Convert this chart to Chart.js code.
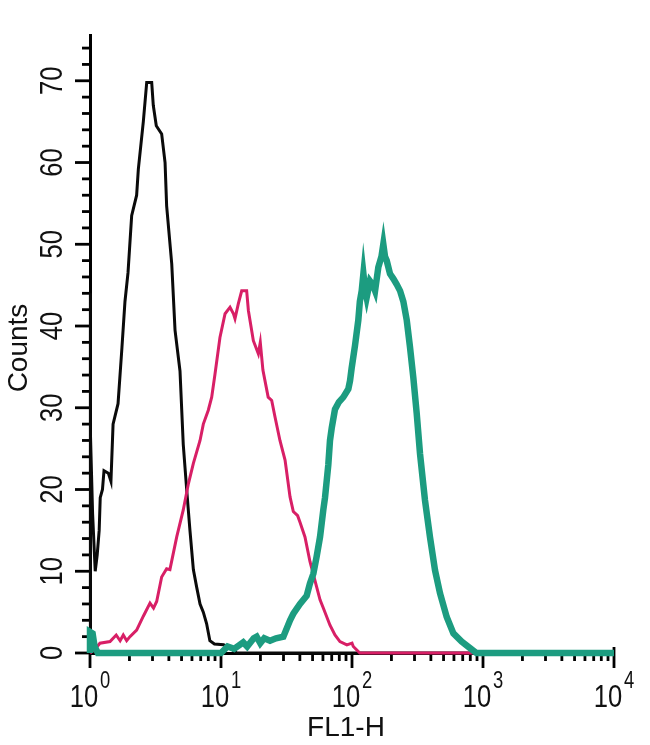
<!DOCTYPE html>
<html><head><meta charset="utf-8">
<script src="https://cdn.jsdelivr.net/npm/chart.js@4.4.1/dist/chart.umd.min.js"></script>
<style>html,body{margin:0;padding:0;background:#fff;}#wrap{width:650px;height:745px;position:relative;}</style>
</head><body><div id="wrap"><canvas id="c"></canvas></div>
<script>
// FL1-H channel values (x) and counts (y)
const blackX = [1, 1, 1.014, 1.047, 1.096, 1.135, 1.175, 1.197, 1.245, 1.279, 1.380, 1.445, 1.500, 1.637, 1.754, 1.849, 1.950, 2.080, 2.270, 2.339, 2.553, 2.710, 2.958, 3.041, 3.206, 3.524, 3.741, 3.846, 4.207, 4.457, 4.864, 5.152, 5.470, 5.794, 6.152, 6.531, 6.918, 7.328, 7.762, 8.222, 8.913, 10.47, 11.75, 13.18, 10000];
const blackY = [0, 44, 27, 17, 10, 12, 15, 19, 20, 22.3, 22, 21, 28, 30.5, 37.4, 43, 46.5, 53.5, 56, 59.2, 65, 69.8, 69.8, 67, 64.5, 63.5, 60, 54.7, 47.6, 39.5, 34.5, 25.5, 20, 15, 10.2, 8, 6, 5, 3.6, 1.5, 1.1, 1, 0.6, 0, 0];

const pinkX = [1, 1.096, 1.191, 1.422, 1.585, 1.698, 1.795, 1.905, 2.018, 2.270, 2.553, 2.871, 3.055, 3.228, 3.524, 3.846, 4.074, 4.592, 5.152, 5.636, 6.152, 6.918, 7.328, 7.998, 8.492, 8.995, 9.817, 10.74, 11.72, 12.45, 12.79, 13.55, 14.39, 15.70, 16.18, 17.66, 19.28, 19.95, 20.89, 22.91, 24.38, 25.82, 28.18, 30.83, 33.65, 35.65, 38.46, 40.09, 43.75, 47.75, 53.70, 57.02, 60.39, 67.92, 74.13, 80.91, 91.41, 100, 102.3, 114.8, 10000];
const pinkY = [0, 0.5, 1.2, 1.4, 2.2, 1.5, 2.2, 1.5, 2, 2.8, 4.5, 6.1, 5.5, 6.3, 9.3, 10.3, 10.2, 14.2, 17.5, 20.7, 23.2, 26, 28, 29.7, 31.3, 34.1, 38.6, 41.5, 42.3, 41.5, 40.9, 42.7, 44.3, 44.3, 41.9, 38.2, 36.6, 38, 34.6, 31.3, 30.9, 28.9, 26, 23.6, 19.1, 17.3, 16.8, 16, 14.2, 11.2, 8.1, 6.5, 5.5, 3.4, 2.2, 1.4, 1.0, 1.2, 0.8, 0, 0];

const tealX = [1, 1, 1.047, 1.084, 1.148, 10, 11.22, 12.59, 14.79, 15.85, 17.78, 18.71, 19.95, 21.38, 23.66, 26.30, 29.92, 33.65, 35.65, 40.09, 45.08, 47.75, 50.70, 53.70, 57.02, 60.39, 62.23, 65.92, 67.92, 69.98, 74.13, 79.43, 85.90, 93.76, 96.61, 99.31, 105.4, 111.7, 114.8, 118.6, 122.2, 125.9, 129.4, 137.1, 144.5, 150.0, 158.9, 167.9, 173.4, 178.6, 184.1, 195.0, 206.5, 219.3, 232.8, 246.6, 261.8, 277.3, 293.8, 311.9, 330.4, 360.6, 393.6, 430.5, 469.9, 528.4, 594.3, 687.1, 796.2, 891.3, 10000];
const tealY = [0, 2.6, 2.4, 0.8, 0, 0, 0.8, 0.5, 1.3, 0.8, 1.8, 2, 1.2, 1.8, 1.5, 1.8, 2, 4, 4.8, 6, 7, 8.5, 9.7, 11.8, 14.2, 17.5, 19, 23, 26, 27.5, 29.8, 30.7, 31.3, 32.3, 33.3, 34.8, 37.6, 40.7, 43, 44.3, 46.4, 44.5, 43.5, 45.5, 45, 44.3, 47.2, 48.5, 50, 48.5, 48, 46.4, 45.8, 45.1, 44.3, 43, 40.7, 37.4, 33.7, 29.3, 24.4, 18.7, 14.2, 10.1, 7.3, 4.4, 2.4, 1.4, 0.6, 0, 0];

const yTickValues = [0, 10, 20, 30, 40, 50, 60, 70];
const yTickLabels = ['0', '10', '20', '30', '40', '50', '60', '70'];
const xTickValues = [1, 10, 100, 1000, 10000];
const xTickBase = ['10', '10', '10', '10', '10'];
const xTickExp = ['0', '1', '2', '3', '4'];
const xTitle = 'FL1-H';
const yTitle = 'Counts';

const pts = (xs, ys) => xs.map((x, i) => ({ x: x, y: ys[i] }));
const FONT = '"Liberation Sans", Arial, Helvetica, sans-serif';

const axisDecor = {
  id: 'axisDecor',
  beforeDatasetsDraw(chart) {
    const ctx = chart.ctx, xs = chart.scales.x, ys = chart.scales.y;
    const ax = chart.chartArea.left, ay = chart.chartArea.bottom;
    ctx.save();
    ctx.strokeStyle = '#000';
    ctx.lineWidth = 2.8;
    ctx.lineCap = 'butt';
    for (let v = 0; v <= ys.max; v += 2) {
      const py = ys.getPixelForValue(v);
      const major = v % 10 === 0;
      ctx.beginPath(); ctx.moveTo(ax - (major ? 15 : 8), py); ctx.lineTo(ax, py); ctx.stroke();
    }
    for (let k = 0; k <= 4; k++) {
      for (let d = 1; d <= 9; d++) {
        if (k === 4 && d > 1) break;
        const px = xs.getPixelForValue(d * Math.pow(10, k));
        const major = d === 1;
        ctx.beginPath();
        ctx.moveTo(px, ay - (k === 4 ? 6 : 0));
        ctx.lineTo(px, ay + (major ? 15 : 8));
        ctx.stroke();
      }
    }
    ctx.restore();
  },
  afterDraw(chart) {
    const ctx = chart.ctx, xs = chart.scales.x, ys = chart.scales.y;
    ctx.save();
    ctx.fillStyle = '#111';
    ctx.font = '32px ' + FONT;
    yTickValues.forEach((v, i) => {
      const py = ys.getPixelForValue(v);
      ctx.save();
      ctx.translate(62, py);
      ctx.rotate(-Math.PI / 2);
      ctx.scale(0.8, 1);
      ctx.textAlign = 'center';
      ctx.textBaseline = 'alphabetic';
      ctx.fillText(yTickLabels[i], 0, 0);
      ctx.restore();
    });
    xTickValues.forEach((v, i) => {
      const px = xs.getPixelForValue(v);
      ctx.font = '32px ' + FONT;
      const w1 = ctx.measureText(xTickBase[i]).width * 0.8;
      ctx.font = '23px ' + FONT;
      const w2 = ctx.measureText(xTickExp[i]).width * 0.8;
      const gap = 2;
      const start = px - (w1 + gap + w2) / 2;
      ctx.textAlign = 'left';
      ctx.textBaseline = 'alphabetic';
      ctx.save();
      ctx.translate(start, 707);
      ctx.scale(0.8, 1);
      ctx.font = '32px ' + FONT;
      ctx.fillText(xTickBase[i], 0, 0);
      ctx.restore();
      ctx.save();
      ctx.translate(start + w1 + gap, 688);
      ctx.scale(0.8, 1);
      ctx.font = '23px ' + FONT;
      ctx.fillText(xTickExp[i], 0, 0);
      ctx.restore();
    });
    ctx.font = '28px ' + FONT;
    ctx.textAlign = 'center';
    ctx.textBaseline = 'alphabetic';
    ctx.fillText(xTitle, 346, 736);
    ctx.save();
    ctx.translate(27, 348);
    ctx.rotate(-Math.PI / 2);
    ctx.fillText(yTitle, 0, 0);
    ctx.restore();
    ctx.restore();
  }
};

new Chart(document.getElementById('c'), {
  type: 'line',
  data: {
    datasets: [
      { label: 'control', data: pts(blackX, blackY), borderColor: '#0a0a0a', borderWidth: 3, order: 2 },
      { label: 'isotype', data: pts(pinkX, pinkY), borderColor: '#d81f66', borderWidth: 3, order: 1 },
      { label: 'stained', data: pts(tealX, tealY), borderColor: '#1c9c80', borderWidth: 6.5, order: 0 }
    ]
  },
  options: {
    responsive: true,
    maintainAspectRatio: false,
    animation: false,
    devicePixelRatio: 1,
    layout: { padding: { left: 90, right: 36, top: 35, bottom: 92 } },
    elements: { point: { radius: 0 }, line: { tension: 0, fill: false } },
    datasets: { line: { clip: false, pointRadius: 0 } },
    plugins: { legend: { display: false }, tooltip: { enabled: false }, title: { display: false } },
    scales: {
      x: {
        type: 'logarithmic', min: 1, max: 10000, position: 'bottom',
        ticks: { display: false },
        grid: { display: false, drawTicks: false },
        border: { display: true, color: '#000', width: 3 },
        title: { display: false }
      },
      y: {
        type: 'linear', min: 0, max: 75.6, position: 'left',
        ticks: { display: false },
        grid: { display: false, drawTicks: false },
        border: { display: true, color: '#000', width: 3 },
        title: { display: false }
      }
    }
  },
  plugins: [axisDecor]
});
</script>
</body></html>
